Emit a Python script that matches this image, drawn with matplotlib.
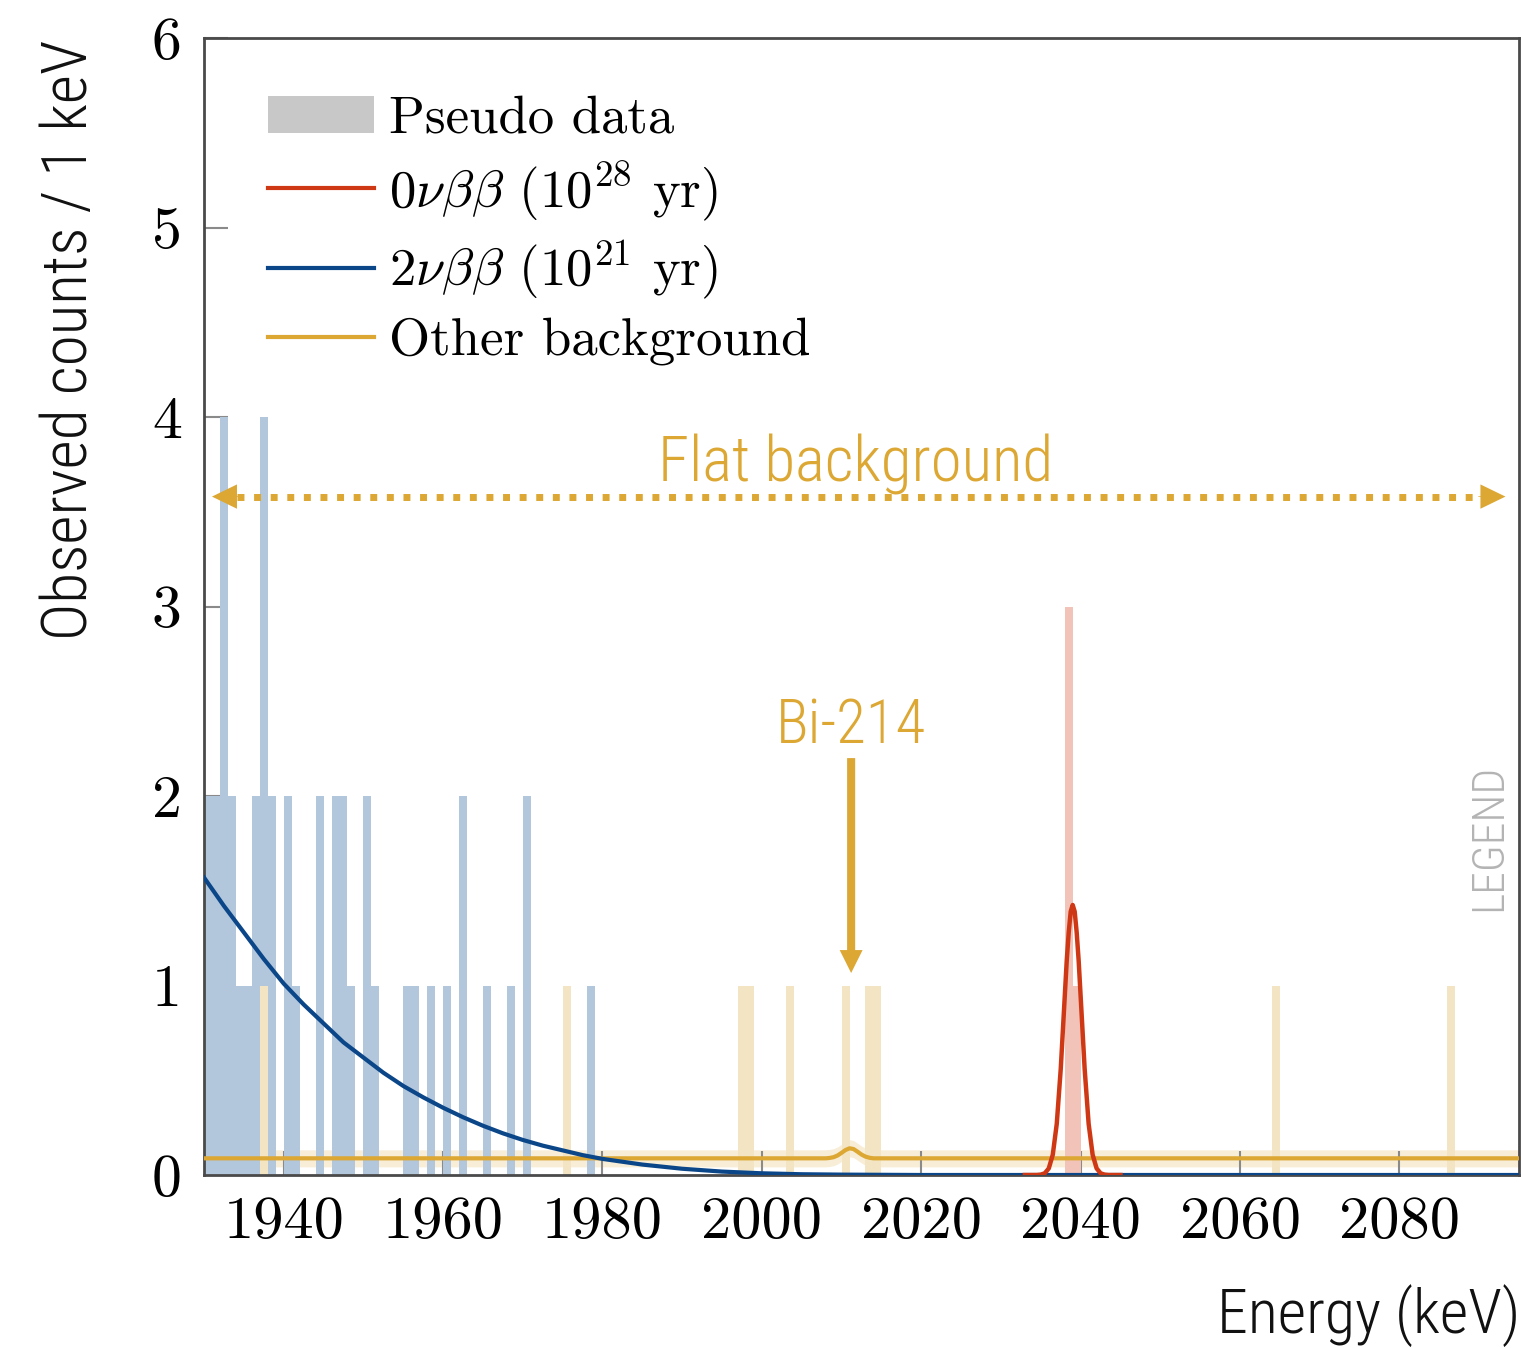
import matplotlib
matplotlib.use("Agg")
import matplotlib.pyplot as plt
from matplotlib import font_manager as fm
from matplotlib.patches import Patch
from matplotlib.lines import Line2D

# ------------------------------------------------------------------ data
# pseudo-data histogram (1 keV bins, left edges in keV) per component
bb2_energy = [1930, 1931, 1932, 1933, 1934, 1935, 1936, 1937, 1938, 1940, 1941,
              1944, 1946, 1947, 1948, 1950, 1951, 1955, 1956, 1958, 1960, 1962,
              1965, 1968, 1970, 1978]
bb2_counts = [2, 2, 4, 2, 1, 1, 2, 3, 2, 2, 1,
              2, 2, 2, 1, 2, 1, 1, 1, 1, 1, 2,
              1, 1, 2, 1]
other_energy = [1937, 1975, 1997, 1998, 2003, 2010, 2013, 2014, 2064, 2086]
other_counts = [1, 1, 1, 1, 1, 1, 1, 1, 1, 1]
bb0_energy = [2038, 2039]
bb0_counts = [3, 1]

# model curves
bb2_curve_energy = [1930, 1932.5, 1935, 1937.5, 1940, 1942.5, 1945, 1947.5, 1950,
                    1952.5, 1955, 1957.5, 1960, 1962.5, 1965, 1967.5, 1970, 1972.5,
                    1975, 1977.5, 1980, 1985, 1990, 1995, 2000, 2005, 2010, 2020, 2095]
bb2_curve_value = [1.57, 1.42, 1.28, 1.14, 1.01, 0.90, 0.80, 0.70, 0.62,
                   0.54, 0.47, 0.41, 0.355, 0.305, 0.26, 0.22, 0.185, 0.155,
                   0.13, 0.105, 0.085, 0.055, 0.033, 0.018, 0.009, 0.004, 0.002, 0.0, 0.0]

bb0_curve_energy = [2033.0, 2034.5, 2035.0, 2035.5, 2036.0, 2036.5, 2037.0, 2037.5,
                    2038.0, 2038.25, 2038.5, 2038.75, 2039.0, 2039.25, 2039.5, 2039.75,
                    2040.0, 2040.5, 2041.0, 2041.5,
                    2042.0, 2042.5, 2043.0, 2043.5, 2045.0]
bb0_curve_value = [0.0, 0.0, 0.002, 0.009, 0.035, 0.107, 0.27, 0.56,
                   0.94, 1.13, 1.28, 1.39, 1.425, 1.39, 1.28, 1.13,
                   0.94, 0.56, 0.27, 0.107,
                   0.035, 0.009, 0.002, 0.0, 0.0]

other_curve_energy = [1930, 2008.0, 2008.5, 2009.0, 2009.5, 2010.0, 2010.5, 2011.0,
                      2011.5, 2012.0, 2012.5, 2013.0, 2013.5, 2014.0, 2095]
other_curve_value = [0.088, 0.088, 0.090, 0.094, 0.103, 0.117, 0.132, 0.141,
                     0.137, 0.123, 0.108, 0.097, 0.091, 0.088, 0.088]
other_band_halfwidth = 0.045

x_range = (1930, 2095)
y_range = (0, 6)
x_ticks = [1940, 1960, 1980, 2000, 2020, 2040, 2060, 2080]
x_tick_labels = ["1940", "1960", "1980", "2000", "2020", "2040", "2060", "2080"]
y_ticks = [0, 1, 2, 3, 4, 5, 6]
y_tick_labels = ["0", "1", "2", "3", "4", "5", "6"]

legend_labels = ["Pseudo data",
                 r"$0\nu\beta\beta$ (10$^{28}$ yr)",
                 r"$2\nu\beta\beta$ (10$^{21}$ yr)",
                 "Other background"]
x_label = "Energy (keV)"
y_label = "Observed counts / 1 keV"

flat_bkg_text = "Flat background"
flat_bkg_y = 3.58
flat_bkg_left, flat_bkg_right = 1931.0, 2093.3
flat_bkg_text_pos = (2011.8, 3.66)

bi214_text = "Bi-214"
bi214_energy = 2011.2
bi214_arrow_top, bi214_arrow_tip = 2.20, 1.066
bi214_text_y = 2.28

logo_text = "LEGEND"
logo_pos = (2091.2, 1.78)

# ------------------------------------------------------------------ style
C_BLUE = "#0b4689"
C_YELLOW = "#dca733"
C_RED = "#cf3814"
BAR_BLUE = "#b3c7dc"
BAR_YELLOW = "#f3e5c4"
BAR_RED = "#f1c3b9"
BAR_GREY = "#c8c8c8"


def pick_family(cands):
    for c in cands:
        try:
            fm.findfont(fm.FontProperties(family=c), fallback_to_default=False)
            return c
        except Exception:
            pass
    return "DejaVu Sans"


SANS = pick_family(["Roboto Condensed", "Roboto Condensed Light", "Roboto", "DejaVu Sans"])

plt.rcParams["mathtext.fontset"] = "cm"
plt.rcParams["axes.formatter.use_mathtext"] = True

W, H = 1521, 1348
fig = plt.figure(figsize=(W / 100, H / 100), dpi=100, facecolor="white")
ax = fig.add_axes([204 / W, 1 - 1175 / H, (1519 - 204) / W, (1175 - 38) / H])

# band + histogram
band_lo = [v - other_band_halfwidth for v in other_curve_value]
band_hi = [v + other_band_halfwidth for v in other_curve_value]
ax.fill_between(other_curve_energy, band_lo, band_hi, color=C_YELLOW, alpha=0.2,
                lw=0, zorder=1)

other_map = dict(zip(other_energy, other_counts))
bb2_map = dict(zip(bb2_energy, bb2_counts))
ax.bar(other_energy, other_counts, width=1, align="edge", color=BAR_YELLOW,
       lw=0, zorder=2)
ax.bar(bb2_energy, bb2_counts, width=1, align="edge",
       bottom=[other_map.get(e, 0) for e in bb2_energy], color=BAR_BLUE, lw=0, zorder=2)
ax.bar(bb0_energy, bb0_counts, width=1, align="edge",
       bottom=[other_map.get(e, 0) + bb2_map.get(e, 0) for e in bb0_energy],
       color=BAR_RED, lw=0, zorder=2)

# model curves
ax.plot(other_curve_energy, other_curve_value, color=C_YELLOW, lw=3.0, zorder=4)
ax.plot(bb2_curve_energy, bb2_curve_value, color=C_BLUE, lw=3.0, zorder=5)
ax.plot(bb0_curve_energy, bb0_curve_value, color=C_RED, lw=3.2, zorder=6,
        solid_joinstyle="round")

ax.set_xlim(*x_range)
ax.set_ylim(*y_range)
ax.set_xticks(x_ticks)
ax.set_xticklabels(x_tick_labels, fontfamily="cmr10", fontsize=43.5)
ax.set_yticks(y_ticks)
ax.set_yticklabels(y_tick_labels, fontfamily="cmr10", fontsize=43)
ax.tick_params(axis="both", direction="in", length=17, width=1.5, color="#8a8a8a")
ax.tick_params(axis="x", pad=15)
ax.tick_params(axis="y", pad=16)
for side in ["left", "bottom", "top", "right"]:
    ax.spines[side].set_linewidth(2.0)
    ax.spines[side].set_color("#4a4a4a")

# legend
handles = [Patch(facecolor=BAR_GREY, edgecolor="none"),
           Line2D([], [], color=C_RED, lw=3),
           Line2D([], [], color=C_BLUE, lw=3),
           Line2D([], [], color=C_YELLOW, lw=3)]
leg = ax.legend(handles, legend_labels, loc="upper left",
                bbox_to_anchor=((268 - 204) / 1315, 1 - (96 - 38) / 1137),
                frameon=False, borderpad=0, borderaxespad=0,
                prop={"family": "cmr10", "size": 38},
                handlelength=2.0, handleheight=0.68, handletextpad=0.3,
                labelspacing=0.30)

# axis labels
ax.set_xlabel(x_label, fontfamily=SANS, fontweight="light", fontsize=40, color="#111111")
ax.xaxis.set_label_coords((1217 - 204) / 1315, (1175 - 1316) / 1137)
ax.xaxis.label.set_ha("left")
ax.xaxis.label.set_va("center")
ax.set_ylabel(y_label, fontfamily=SANS, fontweight="light", fontsize=46, color="#111111")
ax.yaxis.set_label_coords((70 - 204) / 1315, (1175 - 340) / 1137)
ax.yaxis.label.set_va("center")
ax.yaxis.label.set_ha("center")

# annotations
ax.plot([flat_bkg_left + 3.2, flat_bkg_right - 3.2], [flat_bkg_y, flat_bkg_y],
        color=C_YELLOW, lw=5, ls=(0, (1, 1.39)), dash_capstyle="butt", zorder=7)
for tip, sgn in [(flat_bkg_left, 1), (flat_bkg_right, -1)]:
    ax.annotate("", xy=(tip, flat_bkg_y), xytext=(tip + sgn * 3.4, flat_bkg_y),
                arrowprops=dict(width=0.5, headwidth=17.5, headlength=18, shrink=0,
                                lw=0, color=C_YELLOW), zorder=7)
t_flat = ax.text(*flat_bkg_text_pos, flat_bkg_text, ha="center", va="baseline",
                 fontfamily=SANS, fontweight="light", fontsize=48, color=C_YELLOW)

ax.annotate("", xy=(bi214_energy, bi214_arrow_tip), xytext=(bi214_energy, bi214_arrow_top),
            arrowprops=dict(width=5.8, headwidth=16.5, headlength=16.5, shrink=0,
                            lw=0, color=C_YELLOW), zorder=7)
t_bi = ax.text(bi214_energy, bi214_text_y, bi214_text, ha="center", va="baseline",
               fontfamily=SANS, fontweight="light", fontsize=46, color=C_YELLOW)

t_logo = ax.text(*logo_pos, logo_text, rotation=90, ha="center", va="center",
                 fontfamily=SANS, fontweight="light", fontsize=30, color="#b4b4b4")


# fit text widths to reference extents
def fit(txt, target, vertical=False):
    fig.canvas.draw()
    bb = txt.get_window_extent(fig.canvas.get_renderer())
    cur = bb.height if vertical else bb.width
    txt.set_fontsize(txt.get_fontsize() * target / cur)


fit(t_flat, 395)
fit(t_bi, 150)
fit(t_logo, 147, vertical=True)
fit(ax.xaxis.label, 304)
fit(ax.yaxis.label, 600, vertical=True)

fig.savefig("out.png", dpi=100, facecolor="white")
